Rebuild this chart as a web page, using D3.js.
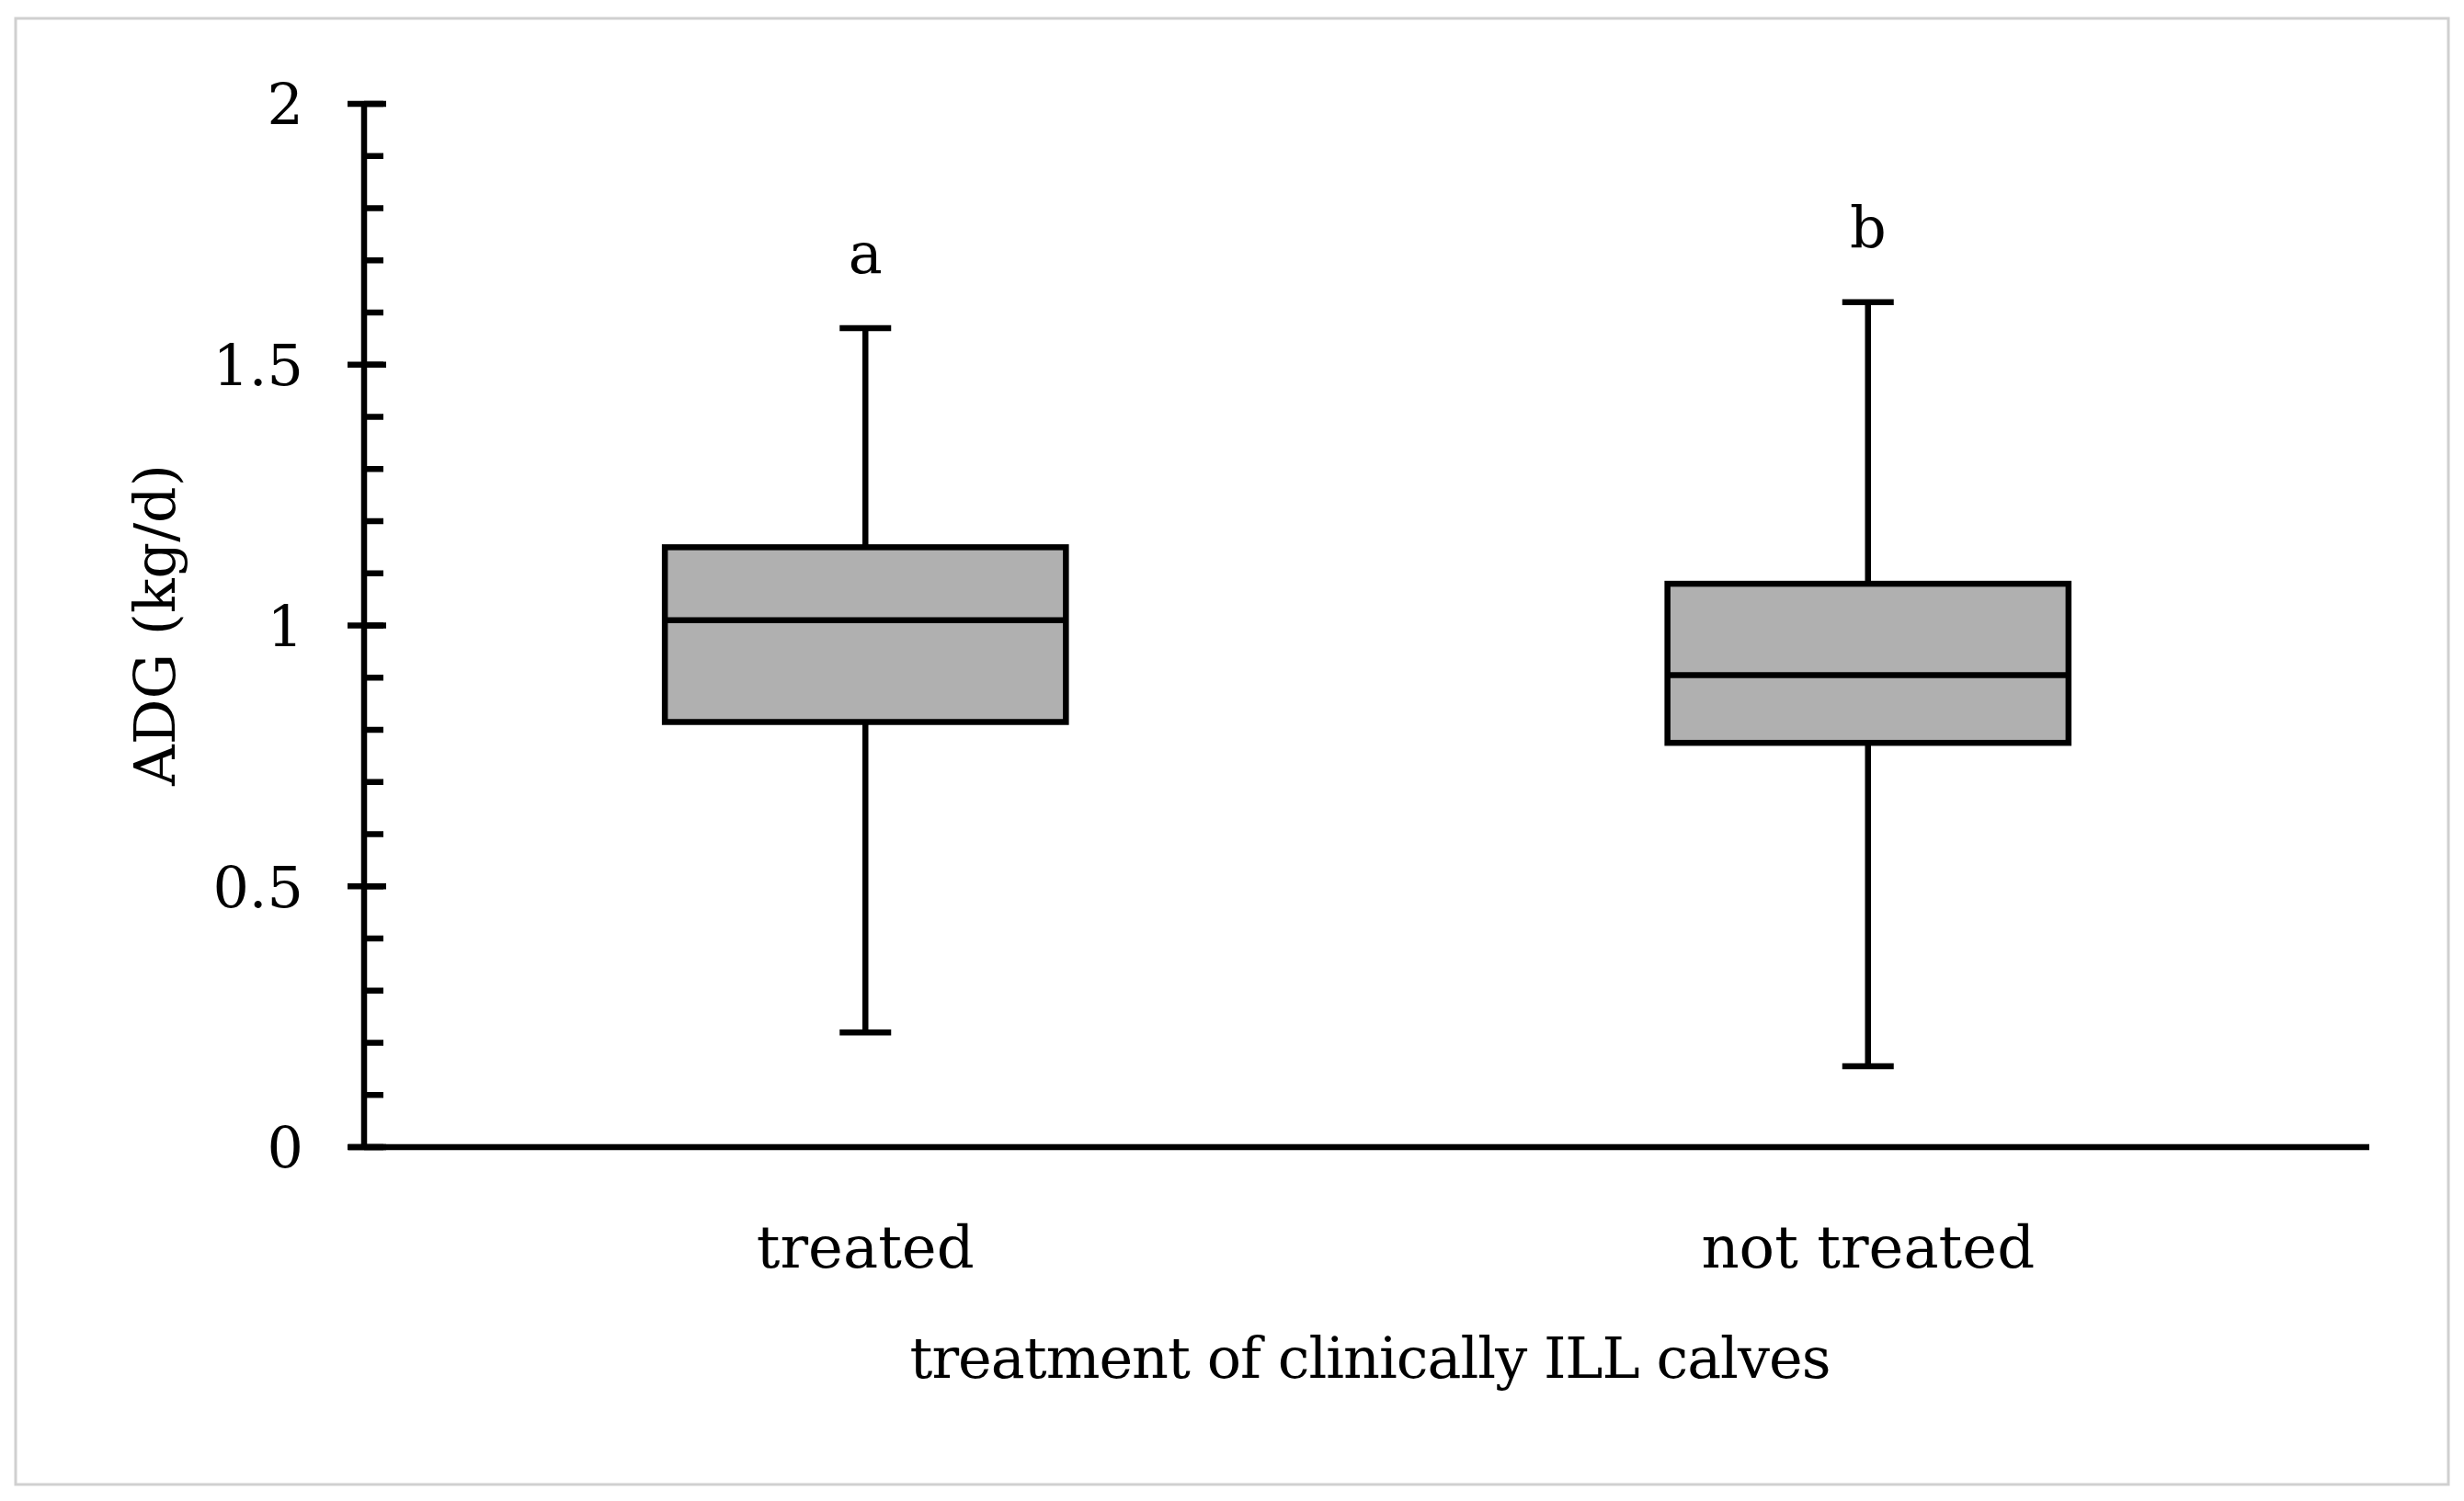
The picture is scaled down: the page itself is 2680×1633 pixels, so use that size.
<!DOCTYPE html>
<html><head><meta charset="utf-8">
<script src="https://cdn.jsdelivr.net/npm/d3@7"></script>
<style>body{margin:0;background:#fff}</style></head>
<body><svg id="c" width="2680" height="1633"></svg>
<script>
const categories = ["treated", "not treated"];
const whiskerLow = [0.22, 0.155];
const q1 = [0.815, 0.775];
const median = [1.01, 0.905];
const q3 = [1.15, 1.08];
const whiskerHigh = [1.57, 1.62];
const sigLetters = ["a", "b"];
const yTicks = [0, 0.5, 1, 1.5, 2];

const svg = d3.select("#c");
const font = "DejaVu Serif, Liberation Serif, serif";
svg.append("rect").attr("x",17).attr("y",20).attr("width",2646).attr("height",1595)
  .attr("fill","none").attr("stroke","#d0d0d0").attr("stroke-width",3);

const y = d3.scaleLinear().domain([0,2]).range([1248,113]);
const x = d3.scaleBand().domain(categories).range([396,2577]).padding(0);
const sw = 6.5;

svg.append("g").selectAll("line").data(d3.range(0,2.0001,0.1)).join("line")
  .attr("x1",396).attr("x2",417).attr("y1",d=>y(d)).attr("y2",d=>y(d))
  .attr("stroke","#000").attr("stroke-width",sw);
svg.append("g").selectAll("line").data(yTicks).join("line")
  .attr("x1",378).attr("x2",420).attr("y1",d=>y(d)).attr("y2",d=>y(d))
  .attr("stroke","#000").attr("stroke-width",sw);
svg.append("g").selectAll("text").data(yTicks).join("text")
  .attr("x",330).attr("y",d=>y(d)).attr("dy","0.36em").attr("text-anchor","end")
  .attr("font-family",font).attr("font-size",62).text(d=>d);
svg.append("line").attr("x1",396).attr("x2",396).attr("y1",y(2)).attr("y2",y(0))
  .attr("stroke","#000").attr("stroke-width",sw);
svg.append("line").attr("x1",379).attr("x2",2577).attr("y1",y(0)).attr("y2",y(0))
  .attr("stroke","#000").attr("stroke-width",sw);

const bw = x.bandwidth()*0.4, cap = 56;
categories.forEach((c,i)=>{
  const cx = x(c)+x.bandwidth()/2;
  const g = svg.append("g").attr("stroke","#000").attr("stroke-width",sw);
  g.append("line").attr("x1",cx).attr("x2",cx).attr("y1",y(whiskerHigh[i])).attr("y2",y(whiskerLow[i]));
  g.append("line").attr("x1",cx-cap/2).attr("x2",cx+cap/2).attr("y1",y(whiskerHigh[i])).attr("y2",y(whiskerHigh[i]));
  g.append("line").attr("x1",cx-cap/2).attr("x2",cx+cap/2).attr("y1",y(whiskerLow[i])).attr("y2",y(whiskerLow[i]));
  g.append("rect").attr("x",cx-bw/2).attr("width",bw).attr("y",y(q3[i])).attr("height",y(q1[i])-y(q3[i]))
    .attr("fill","#b0b0b0");
  g.append("line").attr("x1",cx-bw/2).attr("x2",cx+bw/2).attr("y1",y(median[i])).attr("y2",y(median[i]));
  svg.append("text").attr("x",cx).attr("y",y(whiskerHigh[i])-60).attr("text-anchor","middle")
    .attr("font-family",font).attr("font-size",62).text(sigLetters[i]);
  svg.append("text").attr("x",cx).attr("y",1379).attr("text-anchor","middle")
    .attr("font-family",font).attr("font-size",64).text(c);
});
svg.append("text").attr("x",1490).attr("y",1499).attr("text-anchor","middle")
  .attr("font-family",font).attr("font-size",62).attr("letter-spacing",-1).text("treatment of clinically ILL calves");
svg.append("text").attr("transform","translate(190,680) rotate(-90)").attr("text-anchor","middle")
  .attr("font-family",font).attr("font-size",62).text("ADG (kg/d)");
</script></body></html>
